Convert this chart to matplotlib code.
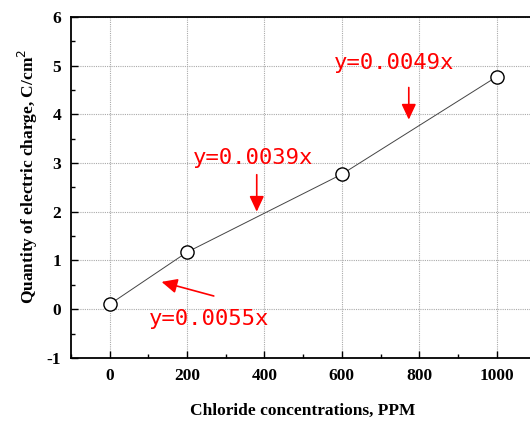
import numpy as np
import matplotlib.pyplot as plt
from matplotlib.ticker import MultipleLocator

# data
conc = [0, 200, 600, 1000]
charge = [0.10, 1.17, 2.77, 4.77]

labels = ['y=0.0049x', 'y=0.0039x', 'y=0.0055x']
label_xy = [(736, 5.06), (370, 3.10), (258, -0.20)]
arrow_tail = [(773, 4.55), (380, 2.76), (269, 0.27)]
arrow_tip = [(773, 3.89), (380, 2.00), (134, 0.56)]

plt.rcParams['font.family'] = ['Liberation Serif', 'DejaVu Serif']
plt.rcParams['axes.unicode_minus'] = False

fig = plt.figure(figsize=(5.3, 4.22), dpi=100)
ax = fig.add_axes([0.134, 0.152, 0.876, 0.808])

ax.plot(conc, charge, '-', color='#444444', lw=0.7,
        marker='o', ms=9.5, mfc='white', mec='black', mew=1.0, zorder=3)

ax.set_xlim(-100, 1100)
ax.set_ylim(-1, 6)
ax.xaxis.set_major_locator(MultipleLocator(200))
ax.xaxis.set_minor_locator(MultipleLocator(100))
ax.yaxis.set_major_locator(MultipleLocator(1))
ax.yaxis.set_minor_locator(MultipleLocator(0.5))
ax.tick_params(which='both', direction='in', top=False, right=False)
ax.tick_params(which='major', length=5, width=1, labelsize=12.5, pad=7)
ax.tick_params(which='minor', length=3, width=1)
for t in ax.get_xticklabels() + ax.get_yticklabels():
    t.set_fontweight('bold')
for s in ax.spines.values():
    s.set_linewidth(1.3)
ax.spines['right'].set_visible(False)

ax.grid(True, which='major', color='#aaaaaa', ls=(0, (1, 1)), lw=0.8)

ax.set_xlabel('Chloride concentrations, PPM', fontsize=12.5, fontweight='bold', labelpad=14)
ax.set_ylabel('Quantity of electric charge, C/cm$^2$', fontsize=12.5, fontweight='bold')
ax.yaxis.set_label_coords(-0.067, 0.532)

for lab, xy, tail, tip in zip(labels, label_xy, arrow_tail, arrow_tip):
    ax.text(xy[0], xy[1], lab, color='red', fontsize=16, family='DejaVu Sans Mono',
            ha='center', va='center')
    ax.annotate('', xy=tip, xytext=tail,
                arrowprops=dict(arrowstyle='-|>,head_length=0.47,head_width=0.22',
                                mutation_scale=20, color='red', lw=1.2,
                                shrinkA=0, shrinkB=0))

fig.savefig('out.png', dpi=100)
